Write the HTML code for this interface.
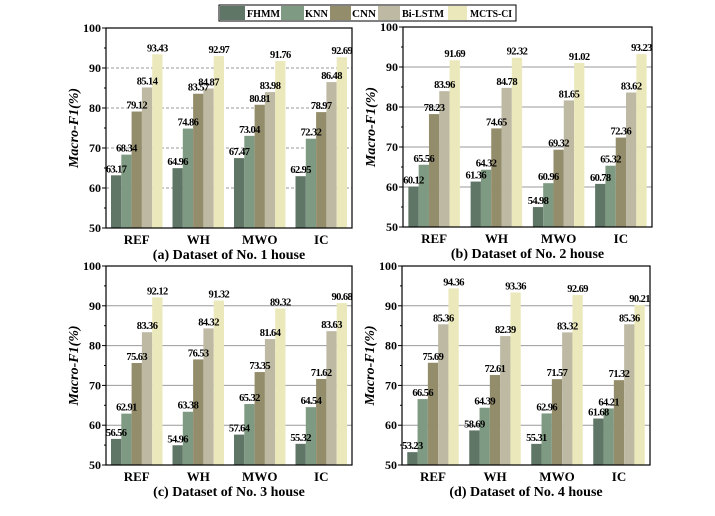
<!DOCTYPE html>
<html><head><meta charset="utf-8"><style>
body{margin:0;background:#fff;width:715px;height:511px;overflow:hidden}
svg{font-family:"Liberation Serif",serif;font-weight:bold}
</style></head><body>
<svg id="c" width="715" height="511" xmlns="http://www.w3.org/2000/svg"></svg>
<script>
const categories=["REF","WH","MWO","IC"];
const seriesNames=["FHMM","KNN","CNN","Bi-LSTM","MCTS-CI"];
const colors=["#5f7565","#7f9a82","#948d6c","#bdb9a3","#ebe9bb"];
const yTicks=[50,60,70,80,90,100];
const panelTitles=["(a) Dataset of No. 1 house","(b) Dataset of No. 2 house","(c) Dataset of No. 3 house","(d) Dataset of No. 4 house"];
const house1=[[63.17,68.34,79.12,85.14,93.43],[64.96,74.86,83.57,84.87,92.97],[67.47,73.04,80.81,83.98,91.76],[62.95,72.32,78.97,86.48,92.69]];
const house2=[[60.12,65.56,78.23,83.96,91.69],[61.36,64.32,74.65,84.78,92.32],[54.98,60.96,69.32,81.65,91.02],[60.78,65.32,72.36,83.62,93.23]];
const house3=[[56.56,62.91,75.63,83.36,92.12],[54.96,63.38,76.53,84.32,91.32],[57.64,65.32,73.35,81.64,89.32],[55.32,64.54,71.62,83.63,90.68]];
const house4=[[53.23,66.56,75.69,85.36,94.36],[58.69,64.39,72.61,82.39,93.36],[55.31,62.96,71.57,83.32,92.69],[61.68,64.21,71.32,85.36,90.21]];
const allData=[house1,house2,house3,house4];
const NS="http://www.w3.org/2000/svg";
const svg=document.getElementById('c');
function mk(t,a,p){const e=document.createElementNS(NS,t);for(const k in a)e.setAttribute(k,a[k]);(p||svg).appendChild(e);return e;}
const panels=[{x0:106,x1:352,y0:28,y1:228,dash:true},{x0:403,x1:652,y0:27,y1:227,dash:false},{x0:106,x1:352,y0:266,y1:465,dash:false},{x0:402,x1:650,y0:266,y1:465,dash:false}];
// legend
const lg=mk('g',{});


mk('rect',{x:219,y:5,width:297,height:16,fill:'#fff',stroke:'#000','stroke-width':1},lg);
const lxs=[220,281,330,378,448];
const lbw=[25,23,21,22,19];
const ltx=[247,305,352,402,470];
const ltl=[33,23,24,42,42];
seriesNames.forEach((n,i)=>{
 const g=mk('g',{},lg);
 
 
 mk('rect',{x:lxs[i],y:6,width:lbw[i],height:14,fill:colors[i]},g);
 const t=mk('text',{x:ltx[i],y:17,'font-size':10.5,textLength:ltl[i],lengthAdjust:'spacingAndGlyphs'},g);t.textContent=n;
});
panels.forEach((P,pi)=>{
 const g=mk('g',{});
 
 
 const ys=v=>P.y1-(v-50)/50*(P.y1-P.y0);
 const gw=(P.x1-P.x0)/4, bw=10.3;
 yTicks.forEach(v=>{
  if(v>50&&v<100){const l=mk('line',{x1:P.x0,x2:P.x1,y1:ys(v),y2:ys(v),stroke:'#999','stroke-width':1,'stroke-dasharray':P.dash?'3,2':'none'},g);
   }
  const t=mk('text',{x:P.x0-5,y:ys(v)+4,'text-anchor':'end','font-size':12},g);t.textContent=v;
  
  mk('line',{x1:P.x0-4,x2:P.x0,y1:ys(v),y2:ys(v),stroke:'#000'},g);
  if(v<100)mk('line',{x1:P.x0-2,x2:P.x0,y1:ys(v+5),y2:ys(v+5),stroke:'#000'},g);
 });
 const data=allData[pi];
 const labels=[];
 categories.forEach((c,ci)=>{
  const gx=P.x0+ci*gw+(gw-5*bw)/2;
  data[ci].forEach((v,si)=>{
   const r=mk('rect',{x:gx+si*bw,y:ys(v),width:bw,height:P.y1-ys(v),fill:colors[si]},g);
   
   
   labels.push([gx+si*bw+bw/2,ys(v)-3,v]);
  });
  const t=mk('text',{x:P.x0+ci*gw+gw/2,y:P.y1+16,'text-anchor':'middle','font-size':13},g);t.textContent=c;
  
 });
 labels.forEach(([x,y,v])=>{
  const t=mk('text',{x:x,y:y,'text-anchor':'middle','font-size':10.5,'letter-spacing':'-0.6'},g);
  t.textContent=v.toFixed(2);
  
 });
 mk('rect',{x:P.x0,y:P.y0,width:P.x1-P.x0,height:P.y1-P.y0,fill:'none',stroke:'#000','stroke-width':1.2},g);
 const yt=mk('text',{x:0,y:0,transform:`translate(${P.x0-28},${(P.y0+P.y1)/2}) rotate(-90)`,'text-anchor':'middle','font-size':14,'font-style':'italic'},g);
 yt.textContent='Macro-F1(%)';
 
 const tt=mk('text',{x:(P.x0+P.x1)/2,y:P.y1+31,'text-anchor':'middle','font-size':14},g);tt.textContent=panelTitles[pi];
 
});
</script>
</body></html>
